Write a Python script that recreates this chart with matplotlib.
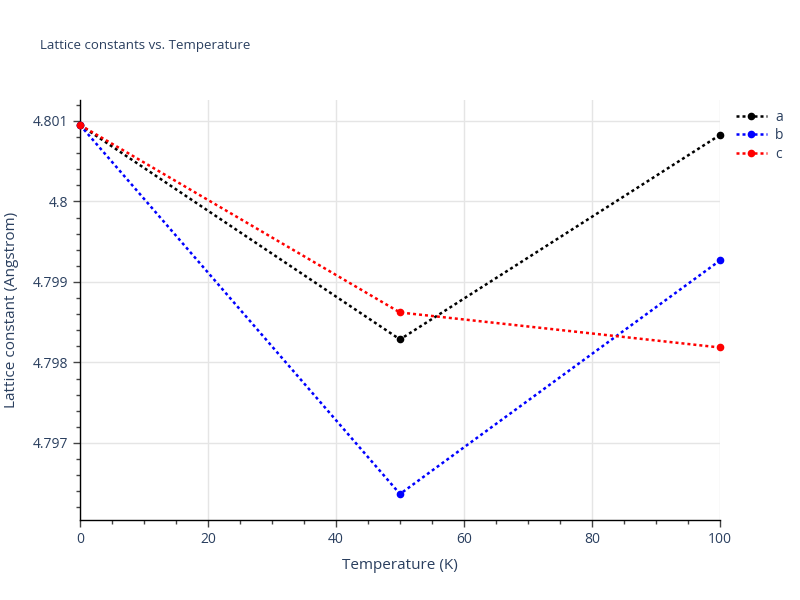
import matplotlib
matplotlib.use("Agg")
import matplotlib.pyplot as plt
from matplotlib.ticker import MultipleLocator, FuncFormatter

temps = [0, 50, 100]
a_vals = [4.80095, 4.798286, 4.800826]
b_vals = [4.80095, 4.796366, 4.799267]
c_vals = [4.80095, 4.798621, 4.798186]
series_names = ["a", "b", "c"]
colors = ["black", "blue", "red"]

plt.rcParams['font.family'] = ['Open Sans', 'DejaVu Sans']
fig = plt.figure(figsize=(8, 6), dpi=100)
ax = fig.add_axes([0.1, 0.1333, 0.8, 0.7])

for vals, name, col in zip([a_vals, b_vals, c_vals], series_names, colors):
    ax.plot(temps, vals, linestyle=(0, (1.2, 1.2)), linewidth=1.8, color=col,
            marker='o', markersize=4.5, label=name, clip_on=False, zorder=3)

ax.set_xlim(0, 100)
ax.set_ylim(4.796043, 4.80126)
ax.xaxis.set_major_locator(MultipleLocator(20))
ax.xaxis.set_minor_locator(MultipleLocator(5))
ax.yaxis.set_major_locator(MultipleLocator(0.001))
ax.yaxis.set_minor_locator(MultipleLocator(0.0002))

def yfmt(v, pos):
    s = f"{v:.3f}".rstrip('0').rstrip('.')
    return s
ax.yaxis.set_major_formatter(FuncFormatter(yfmt))

ax.grid(True, which='major', color='#e5e5e5', linewidth=1)
ax.set_axisbelow(True)
for s in ['top', 'right']:
    ax.spines[s].set_visible(False)
for s in ['left', 'bottom']:
    ax.spines[s].set_color('black')
    ax.spines[s].set_linewidth(1)

tc = '#2a3f5f'
ax.tick_params(axis='both', which='major', direction='out', length=5, color='#444444',
               labelcolor=tc, labelsize=10, width=1)
ax.tick_params(axis='both', which='minor', direction='out', length=3, color='#444444', width=1)

ax.set_xlabel("Temperature (K)", color=tc, fontsize=11, labelpad=8)
ax.set_ylabel("Lattice constant (Angstrom)", color=tc, fontsize=11, labelpad=10)

fig.text(0.05, 0.925, "Lattice constants vs. Temperature", color=tc, fontsize=9.5, va='center')

leg = ax.legend(loc='upper left', bbox_to_anchor=(1.01, 1.0), frameon=False,
                fontsize=10, handlelength=2.2, labelcolor=tc, borderaxespad=0.3,
                labelspacing=0.25, handletextpad=0.6)

fig.savefig("out.png", dpi=100)
